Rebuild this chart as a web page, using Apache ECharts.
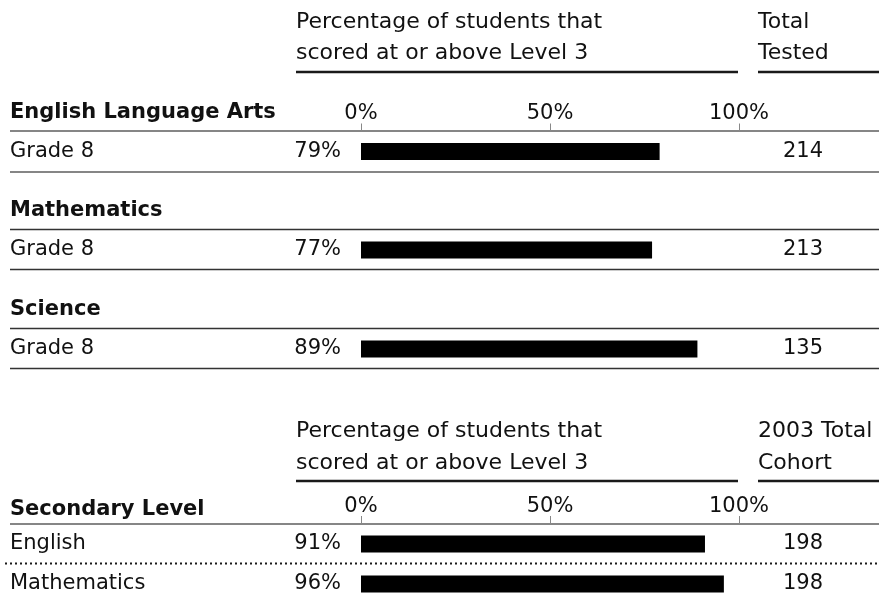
<!DOCTYPE html>
<html>
<head>
<meta charset="utf-8">
<script src="https://cdn.jsdelivr.net/npm/echarts@6/dist/echarts.min.js"></script>
<style>
  html, body { margin: 0; padding: 0; background: #fff; }
  #chart { width: 879px; height: 601px; }
</style>
</head>
<body>
<div id="chart"></div>
<script>
// ---- data ----
const sectionTitles = ["English Language Arts", "Mathematics", "Science", "Secondary Level"];
const rowNames = ["Grade 8", "Grade 8", "Grade 8", "English", "Mathematics"];
const pctValues = [79, 77, 89, 91, 96];
const totals = [214, 213, 135, 198, 198];
const headerPctLines = ["Percentage of students that", "scored at or above Level 3"];
const headerTotalUpper = ["Total", "Tested"];
const headerTotalLower = ["2003 Total", "Cohort"];

// ---- layout ----
const FONT = "DejaVu Sans";
const FS = 21;
const HFS = 22;
const TXT = "#111";
const plotLeft = 361, plotWidth = 378;
const rowCenters = [151.5, 250, 349, 544, 584];
const rowH = 40;
const axisRows = [0, 3];

const chart = echarts.init(document.getElementById('chart'), null, { renderer: 'canvas' });

const grids = [], xAxes = [], yAxes = [], series = [];
rowCenters.forEach((c, i) => {
  grids.push({ left: plotLeft, width: plotWidth, top: c - rowH / 2, height: rowH, containLabel: false, outerBoundsMode: 'none' });
  const showAxis = axisRows.includes(i);
  xAxes.push({
    gridIndex: i, type: 'value', min: 0, max: 100, interval: 50, position: 'top',
    show: showAxis,
    axisLine: { show: false },
    splitLine: { show: false },
    axisTick: { show: showAxis, length: 8, lineStyle: { color: '#888', width: 1 } },
    axisLabel: { show: showAxis, margin: 7, color: TXT, fontSize: FS, fontFamily: FONT, formatter: '{value}%' }
  });
  yAxes.push({
    gridIndex: i, type: 'category', data: [rowNames[i]], position: 'left',
    axisLine: { show: false }, axisTick: { show: false }, splitLine: { show: false },
    axisLabel: { align: 'left', margin: plotLeft - 10, color: TXT, fontSize: FS, fontFamily: FONT }
  });
  yAxes.push({
    gridIndex: i, type: 'category', data: [String(totals[i])], position: 'right',
    axisLine: { show: false }, axisTick: { show: false }, splitLine: { show: false },
    axisLabel: { align: 'center', margin: 64, color: TXT, fontSize: FS, fontFamily: FONT }
  });
  series.push({
    type: 'bar', xAxisIndex: i, yAxisIndex: 2 * i, data: [pctValues[i]],
    barWidth: 17, itemStyle: { color: '#000' }, silent: true,
    label: { show: true, position: 'left', distance: 20, formatter: '{c}%', color: TXT, fontSize: FS, fontFamily: FONT }
  });
});

function txt(x, y, s, bold, size) {
  return { type: 'text', x: x, y: y, silent: true,
    style: { text: s, fill: TXT, font: (bold ? 'bold ' : '') + (size || FS) + 'px "' + FONT + '"', verticalAlign: 'middle', align: 'left' } };
}
function line(x1, y, x2, color, w, dash) {
  return { type: 'line', silent: true, shape: { x1: x1, y1: y, x2: x2, y2: y },
    style: { stroke: color, lineWidth: w, lineDash: dash || null } };
}

const graphics = [];
// column headers
[[22, 53, 72, headerTotalUpper], [431, 463, 481, headerTotalLower]].forEach(h => {
  graphics.push(txt(296, h[0], headerPctLines[0], false, HFS));
  graphics.push(txt(296, h[1], headerPctLines[1], false, HFS));
  graphics.push(txt(758, h[0], h[3][0], false, HFS));
  graphics.push(txt(758, h[1], h[3][1], false, HFS));
  graphics.push(line(296, h[2], 738, '#1a1a1a', 2.5));
  graphics.push(line(758, h[2], 879, '#1a1a1a', 2.5));
});
// section titles
const titleY = [113, 211, 310, 510];
sectionTitles.forEach((t, i) => graphics.push(txt(10, titleY[i], t, true)));
// rules
graphics.push(line(10, 131, 879, '#868686', 2));
graphics.push(line(10, 172, 879, '#868686', 2));
graphics.push(line(10, 229.5, 879, '#333', 1.5));
graphics.push(line(10, 269.5, 879, '#333', 1.5));
graphics.push(line(10, 328.5, 879, '#333', 1.5));
graphics.push(line(10, 368.5, 879, '#333', 1.5));
graphics.push(line(10, 524, 879, '#868686', 2));
graphics.push(line(5, 563.5, 879, '#1a1a1a', 2, [2, 3]));

chart.setOption({
  backgroundColor: '#fff',
  animation: false,
  grid: grids,
  xAxis: xAxes,
  yAxis: yAxes,
  series: series,
  graphic: graphics
});
</script>
</body>
</html>
